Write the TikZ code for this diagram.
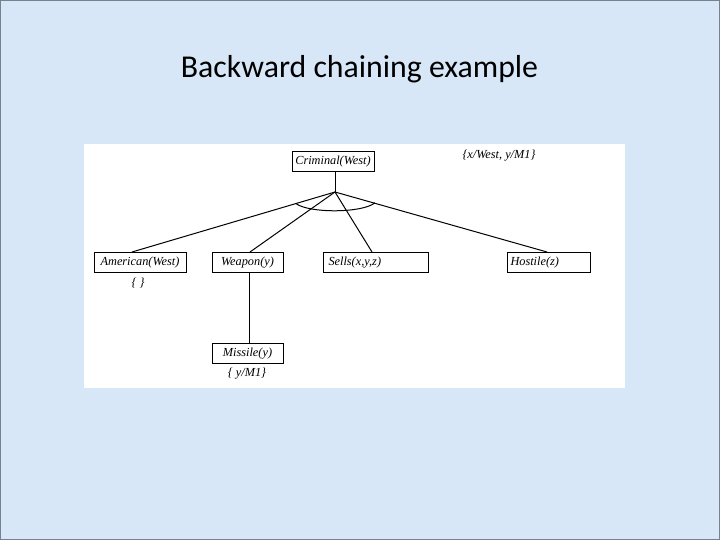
\documentclass[tikz,border=0pt]{standalone}
\usepackage{fontspec}
\setmainfont{Liberation Serif}
\newfontfamily\titlefont{Carlito}
\definecolor{slidebg}{RGB}{216,231,248}
\definecolor{framegray}{RGB}{120,130,140}
\begin{document}
\begin{tikzpicture}[x=1pt,y=-1pt,
  diag/.style={font=\itshape\fontsize{12.3}{14}\selectfont},
  pbox/.style={diag, draw, line width=1pt, minimum height=20pt, inner ysep=0pt, inner xsep=3pt, text height=9pt, text depth=3pt, anchor=center},
  link/.style={line width=1pt},
  lbl/.style={diag, inner sep=0pt}]
\useasboundingbox (0,0) rectangle (720,540);
\fill[slidebg] (0,0) rectangle (720,540);
\draw[framegray, line width=0.6pt] (0.3,0.3) rectangle (719.7,539.7);
\fill[white] (84,144) rectangle (625,388);
\node[font=\titlefont\fontsize{31.8}{36}\selectfont, anchor=base, inner sep=0pt] (title) at (359.5,78) {Backward chaining example};
% nodes
\node[pbox, text width=76pt, align=center] (crim) at (333,162) {Criminal(West)};
\node[pbox, text width=86pt, align=center] (amer) at (140,262.5) {American(West)};
\node[pbox, text width=65pt, align=center] (weap) at (247.5,262.5) {Weapon(y)};
\node[pbox, text width=99pt, align=left] (sells) at (375.5,262.5) {\hspace*{2.5pt}Sells(x,y,z)};
\node[pbox, text width=77pt, align=left] (host) at (548.5,262.5) {\hspace*{0.5pt}Hostile(z)};
\node[pbox, text width=65pt, align=center] (miss) at (247.5,353) {Missile(y)};
% labels
\node[lbl] (s0) at (499,156) {\{x/West, y/M1\}};
\node[lbl] (s1) at (138,283) {\{ \}};
\node[lbl] (s2) at (247,374) {\{ y/M1\}};
% connectors
\coordinate (J) at (335,192);
\draw[link] (J |- crim.south) -- (J);
\draw[link] (J) -- ([xshift=-8pt]amer.north);
\draw[link] (J) -- ([xshift=2.5pt]weap.north);
\draw[link] (J) -- ([xshift=-3.5pt]sells.north);
\draw[link] (J) -- ([xshift=-1.5pt]host.north);
\draw[link] ([xshift=2pt]weap.south) -- ([xshift=2pt]miss.north);
% and-arc
\coordinate (a1) at (296,203.6);
\coordinate (a2) at (375,202.8);
\draw[link] (a1) .. controls (309,213.3) and (362,213.3) .. (a2);
\end{tikzpicture}
\end{document}
